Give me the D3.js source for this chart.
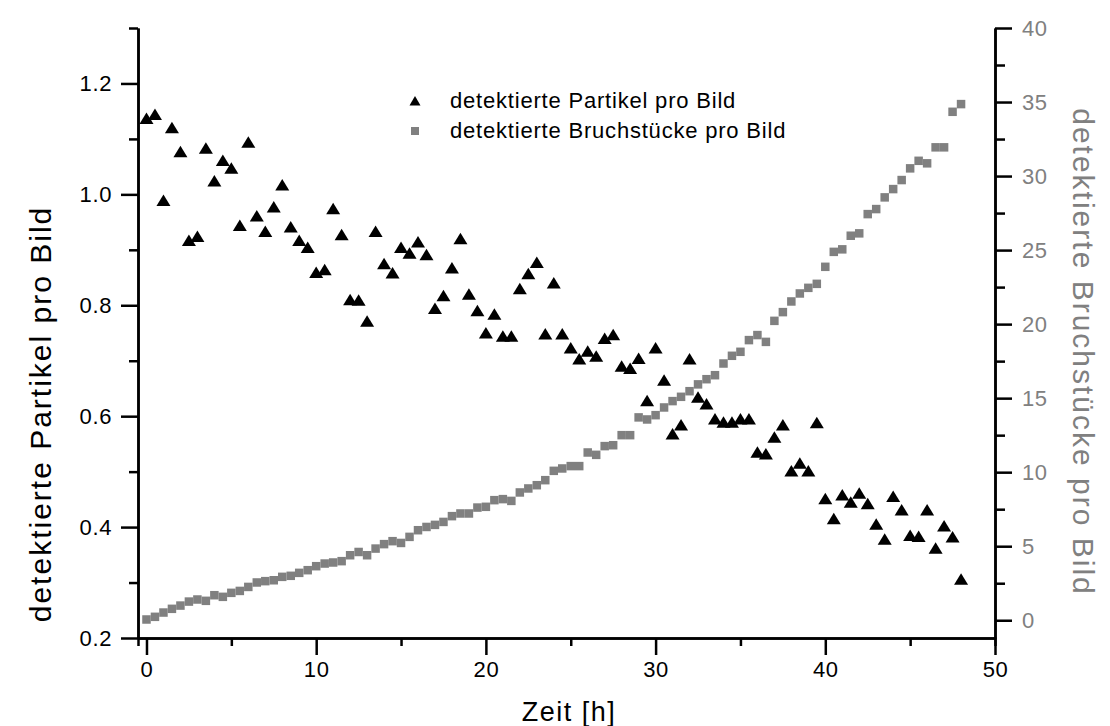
<!DOCTYPE html>
<html><head><meta charset="utf-8">
<script src="https://cdn.jsdelivr.net/npm/d3@7"></script>
<style>
html,body{margin:0;padding:0;background:#fff;}
svg{display:block;font-family:"Liberation Sans",Arial,sans-serif;}
</style></head>
<body>
<svg id="chart" width="1110" height="726"></svg>
<script>
const timeH = [0,0.5,1,1.5,2,2.5,3,3.5,4,4.5,5,5.5,6,6.5,7,7.5,8,8.5,9,9.5,10,10.5,11,11.5,12,12.5,13,13.5,14,14.5,15,15.5,16,16.5,17,17.5,18,18.5,19,19.5,20,20.5,21,21.5,22,22.5,23,23.5,24,24.5,25,25.5,26,26.5,27,27.5,28,28.5,29,29.5,30,30.5,31,31.5,32,32.5,33,33.5,34,34.5,35,35.5,36,36.5,37,37.5,38,38.5,39,39.5,40,40.5,41,41.5,42,42.5,43,43.5,44,44.5,45,45.5,46,46.5,47,47.5,48];
const partikel = [1.137,1.144,0.989,1.120,1.077,0.917,0.924,1.083,1.024,1.061,1.047,0.944,1.094,0.961,0.933,0.977,1.017,0.941,0.917,0.904,0.859,0.864,0.974,0.927,0.810,0.809,0.771,0.933,0.875,0.858,0.904,0.894,0.914,0.891,0.794,0.817,0.867,0.920,0.820,0.790,0.750,0.784,0.744,0.744,0.830,0.857,0.877,0.748,0.840,0.748,0.723,0.703,0.717,0.708,0.740,0.747,0.690,0.686,0.704,0.628,0.723,0.665,0.568,0.584,0.703,0.634,0.622,0.595,0.589,0.589,0.595,0.595,0.535,0.532,0.562,0.584,0.501,0.515,0.501,0.588,0.451,0.415,0.458,0.445,0.461,0.442,0.405,0.378,0.455,0.431,0.385,0.383,0.431,0.362,0.402,0.382,0.306];
const bruchstuecke = [0.05,0.23,0.52,0.77,0.99,1.26,1.40,1.31,1.69,1.58,1.85,1.98,2.25,2.55,2.64,2.70,2.93,3.00,3.20,3.38,3.65,3.83,3.90,3.99,4.39,4.61,4.39,4.84,5.14,5.34,5.22,5.63,6.08,6.30,6.44,6.64,7.03,7.21,7.21,7.61,7.66,8.11,8.18,8.06,8.63,8.90,9.12,9.46,10.09,10.25,10.41,10.41,11.33,11.17,11.76,11.82,12.50,12.50,13.70,13.56,13.85,14.37,14.80,15.09,15.47,15.93,16.28,16.55,17.34,17.86,18.13,18.92,19.26,18.80,20.22,20.81,21.53,22.07,22.45,22.72,23.87,24.88,25.05,25.97,26.13,27.43,27.77,28.56,29.12,29.73,30.52,31.03,30.86,31.94,31.94,34.34,34.86];
const xTicks = [0,10,20,30,40,50];
const xMinorTicks = [5,15,25,35,45];
const yLeftTicks = [0.2,0.4,0.6,0.8,1.0,1.2];
const yLeftMinor = [0.3,0.5,0.7,0.9,1.1,1.3];
const yRightTicks = [0,5,10,15,20,25,30,35,40];
const yRightMinor = [2.5,7.5,12.5,17.5,22.5,27.5,32.5,37.5];
const seriesNames = ["detektierte Partikel pro Bild","detektierte Bruchstücke pro Bild"];
const xTitle = "Zeit [h]";
const yLeftTitle = "detektierte Partikel pro Bild";
const yRightTitle = "detektierte Bruchstücke pro Bild";

const L = 138, R = 995, T = 28, B = 638;
const grey = "#808080";
const svg = d3.select("#chart");
const x = d3.scaleLinear().domain([-0.5, 50]).range([L, R]);
const yL = d3.scaleLinear().domain([0.2, 1.3]).range([B, T]);
const yR = d3.scaleLinear().domain([-1.2, 40]).range([B, T]);

function styleAxis(g, labelColor){
  g.select(".domain").attr("stroke","#000").attr("stroke-width",2.5);
  g.selectAll(".tick line").attr("stroke","#000").attr("stroke-width",2.5);
  g.selectAll(".tick text").attr("fill",labelColor).style("font-size","22px").style("letter-spacing","0.6px").style("font-family","'Liberation Sans',Arial,sans-serif");
}
const gxm = svg.append("g").attr("transform",`translate(0,${B})`)
  .call(d3.axisBottom(x).tickValues(xMinorTicks).tickSize(8).tickFormat(""));
styleAxis(gxm,"#000");
const gx = svg.append("g").attr("transform",`translate(0,${B})`)
  .call(d3.axisBottom(x).tickValues(xTicks).tickSize(17).tickPadding(6).tickSizeOuter(0).tickFormat(d3.format("d")));
styleAxis(gx,"#000");
const gylm = svg.append("g").attr("transform",`translate(${L},0)`)
  .call(d3.axisLeft(yL).tickValues(yLeftMinor).tickSize(9).tickSizeOuter(0).tickFormat(""));
styleAxis(gylm,"#000");
const gyl = svg.append("g").attr("transform",`translate(${L},0)`)
  .call(d3.axisLeft(yL).tickValues(yLeftTicks).tickSize(17).tickPadding(9).tickSizeOuter(0).tickFormat(d3.format(".1f")));
styleAxis(gyl,"#000");
const gyrm = svg.append("g").attr("transform",`translate(${R},0)`)
  .call(d3.axisRight(yR).tickValues(yRightMinor).tickSize(10).tickSizeOuter(0).tickFormat(""));
styleAxis(gyrm,grey);
const gyr = svg.append("g").attr("transform",`translate(${R},0)`)
  .call(d3.axisRight(yR).tickValues(yRightTicks).tickSize(17).tickPadding(10).tickSizeOuter(0).tickFormat(d3.format("d")));
styleAxis(gyr,grey);

svg.append("text").attr("x",569).attr("y",721).attr("text-anchor","middle")
  .style("font-size","27px").style("letter-spacing","1.5px").text(xTitle);
svg.append("text").attr("transform","translate(51,414) rotate(-90)").attr("text-anchor","middle")
  .style("font-size","30px").style("letter-spacing","2px").text(yLeftTitle);
svg.append("text").attr("transform","translate(1073,352) rotate(90)").attr("text-anchor","middle")
  .attr("fill",grey).style("font-size","30px").style("letter-spacing","2px").text(yRightTitle);

const data = timeH.map((t,i)=>({t, p:partikel[i], b:bruchstuecke[i]}));
const sq = 8.5;
svg.append("g").selectAll("rect").data(data).join("rect")
  .attr("x",d=>x(d.t)-sq/2).attr("y",d=>yR(d.b)-sq/2).attr("width",sq).attr("height",sq).attr("fill",grey);
const tri = "M0,-6 L7,5.5 L-7,5.5 Z";
svg.append("g").selectAll("path").data(data).join("path")
  .attr("transform",d=>`translate(${x(d.t)},${yL(d.p)})`).attr("d",tri).attr("fill","#000");

const lg = svg.append("g");
lg.append("path").attr("transform","translate(415,101)").attr("d","M0,-5 L5.5,4.5 L-5.5,4.5 Z").attr("fill","#000");
lg.append("rect").attr("x",411).attr("y",127).attr("width",8).attr("height",8).attr("fill",grey);
lg.append("text").attr("x",450).attr("y",108).style("font-size","22px").style("letter-spacing","0.8px").text(seriesNames[0]);
lg.append("text").attr("x",450).attr("y",138).style("font-size","22px").style("letter-spacing","0.8px").text(seriesNames[1]);
</script>
</body></html>
